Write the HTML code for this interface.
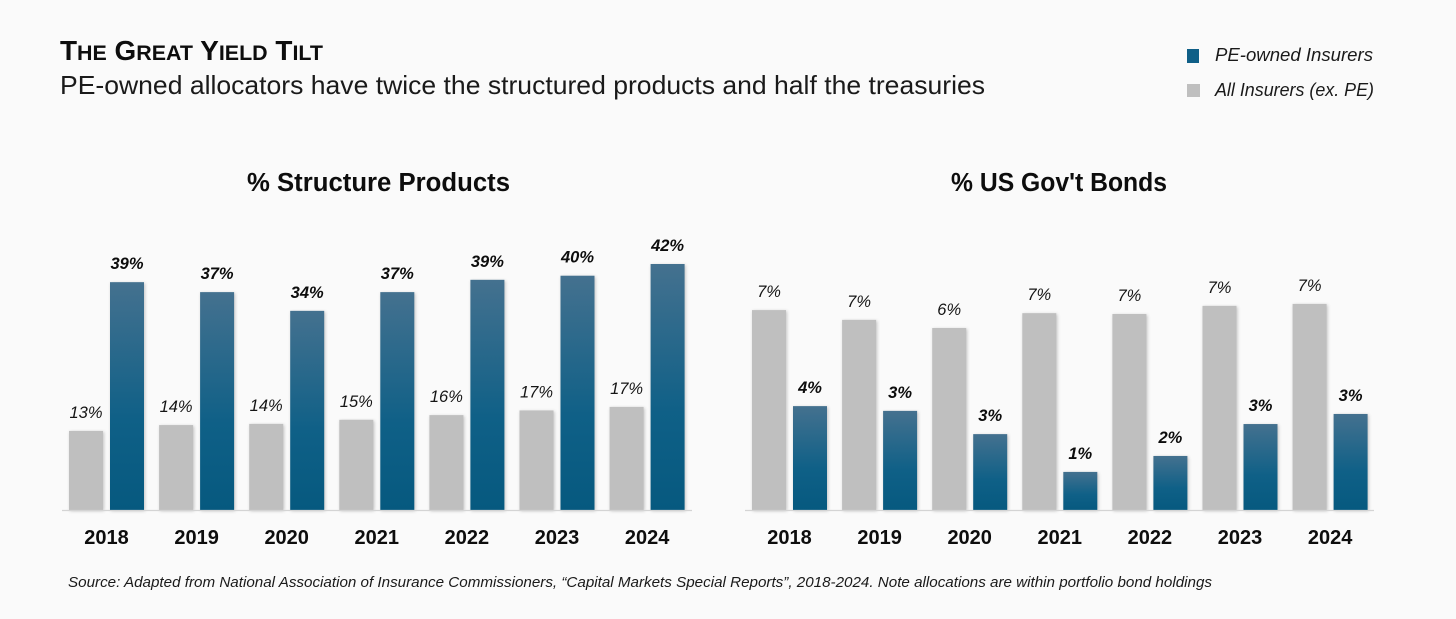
<!DOCTYPE html>
<html lang="en">
<head>
<meta charset="utf-8">
<title>The Great Yield Tilt</title>
<style>
  html, body { margin: 0; padding: 0; background: #fafafa; }
  #stage { display: block; width: 1456px; height: 619px; font-family: "Liberation Sans", sans-serif; }
  .bar { filter: drop-shadow(1px 1px 1.5px rgba(0,0,0,0.22)); }
  .val { font-size: 16.5px; font-style: italic; fill: #151515; text-anchor: middle; }
  .val-bold { font-weight: 700; fill: #0d0d0d; }
  .year { font-size: 20px; font-weight: 700; fill: #0d0d0d; text-anchor: middle; }
</style>
</head>
<body>
<svg id="stage" xmlns="http://www.w3.org/2000/svg" width="1456" height="619" viewBox="0 0 1456 619">
  <defs>
    <linearGradient id="blueGrad" x1="0" y1="0" x2="0" y2="1">
      <stop offset="0" stop-color="#44718f"/>
      <stop offset="0.6" stop-color="#0f6087"/>
      <stop offset="1" stop-color="#06597f"/>
    </linearGradient>
  </defs>
  <rect width="1456" height="619" fill="#fafafa"/>

  <text x="60" y="60" font-size="28" font-weight="700" fill="#0d0d0d" textLength="263" lengthAdjust="spacingAndGlyphs">T<tspan font-size="21.5">HE</tspan> G<tspan font-size="21.5">REAT</tspan> Y<tspan font-size="21.5">IELD</tspan> T<tspan font-size="21.5">ILT</tspan></text>
  <text x="60" y="94" font-size="25.8" fill="#1a1a1a" textLength="925" lengthAdjust="spacingAndGlyphs">PE-owned allocators have twice the structured products and half the treasuries</text>

  <rect x="1187" y="49" width="12" height="14" fill="#0f5f87"/>
  <text x="1215" y="61" font-size="18" font-style="italic" fill="#1a1a1a" textLength="158" lengthAdjust="spacingAndGlyphs">PE-owned Insurers</text>
  <rect x="1187" y="84" width="13" height="13" fill="#bfbfbf"/>
  <text x="1215" y="96" font-size="18" font-style="italic" fill="#1a1a1a" textLength="159" lengthAdjust="spacingAndGlyphs">All Insurers (ex. PE)</text>

  <text x="247" y="191" font-size="25.5" font-weight="700" fill="#0d0d0d" textLength="263" lengthAdjust="spacingAndGlyphs">% Structure Products</text>
  <text x="951" y="191" font-size="25.5" font-weight="700" fill="#0d0d0d" textLength="216" lengthAdjust="spacingAndGlyphs">% US Gov't Bonds</text>

  <g id="left-chart"></g>
  <g id="right-chart"></g>

  <text x="68" y="587" font-size="15" font-style="italic" fill="#1a1a1a" textLength="1144" lengthAdjust="spacingAndGlyphs">Source: Adapted from National Association of Insurance Commissioners, “Capital Markets Special Reports”, 2018-2024. Note allocations are within portfolio bond holdings</text>
</svg>
<script>
const categories = ['2018', '2019', '2020', '2021', '2022', '2023', '2024'];

const structuredAll = [13.5, 14.5, 14.7, 15.4, 16.2, 17.0, 17.6];
const structuredPE = [38.9, 37.2, 34.0, 37.2, 39.3, 40.0, 42.0];
const structuredAllLabels = ['13%', '14%', '14%', '15%', '16%', '17%', '17%'];
const structuredPELabels = ['39%', '37%', '34%', '37%', '39%', '40%', '42%'];

const bondsAll = [7.14, 6.79, 6.5, 7.03, 7.0, 7.29, 7.36];
const bondsPE = [3.71, 3.54, 2.71, 1.36, 1.93, 3.07, 3.43];
const bondsAllLabels = ['7%', '7%', '6%', '7%', '7%', '7%', '7%'];
const bondsPELabels = ['4%', '3%', '3%', '1%', '2%', '3%', '3%'];

const SVG_NS = 'http://www.w3.org/2000/svg';
const BASELINE = 510;

function drawChart(groupId, prefix, allValues, peValues, allLabels, peLabels, pxPerUnit, firstCenter, step, axisX1, axisX2) {
  const group = document.getElementById(groupId);
  const barWidth = 34;
  const xCenter = function (i) { return firstCenter + step * i; };
  const yScale = function (v) { return BASELINE - v * pxPerUnit; };

  function addBar(x, value, fill, name) {
    const r = document.createElementNS(SVG_NS, 'rect');
    r.setAttribute('x', x);
    r.setAttribute('y', yScale(value));
    r.setAttribute('width', barWidth);
    r.setAttribute('height', BASELINE - yScale(value));
    r.setAttribute('fill', fill);
    r.setAttribute('class', 'bar');
    
    
    group.appendChild(r);
  }

  function addText(x, y, content, cls, name) {
    const t = document.createElementNS(SVG_NS, 'text');
    t.setAttribute('x', x);
    t.setAttribute('y', y);
    t.setAttribute('class', cls);
    
    
    t.textContent = content;
    group.appendChild(t);
  }

  categories.forEach(function (year, i) {
    const c = xCenter(i);
    addBar(c - 37.5, allValues[i], '#bfbfbf', prefix + '-bar-all-insurers-' + year);
    addBar(c + 3.5, peValues[i], 'url(#blueGrad)', prefix + '-bar-pe-owned-' + year);
    addText(c - 20.5, yScale(allValues[i]) - 13, allLabels[i], 'val', prefix + '-value-all-insurers-' + year);
    addText(c + 20.5, yScale(peValues[i]) - 13, peLabels[i], 'val val-bold', prefix + '-value-pe-owned-' + year);
    addText(c, 544, year, 'year', prefix + '-year-label-' + year);
  });

  const axis = document.createElementNS(SVG_NS, 'line');
  axis.setAttribute('x1', axisX1);
  axis.setAttribute('x2', axisX2);
  axis.setAttribute('y1', BASELINE + 0.5);
  axis.setAttribute('y2', BASELINE + 0.5);
  axis.setAttribute('stroke', '#d4d4d4');
  axis.setAttribute('stroke-width', '1.2');
  
  
  group.appendChild(axis);
}

drawChart('left-chart', 'structured', structuredAll, structuredPE, structuredAllLabels, structuredPELabels, 5.857, 106.5, 90.1, 62, 692);
drawChart('right-chart', 'bonds', bondsAll, bondsPE, bondsAllLabels, bondsPELabels, 28, 789.5, 90.1, 745, 1374);
</script>
</body>
</html>
